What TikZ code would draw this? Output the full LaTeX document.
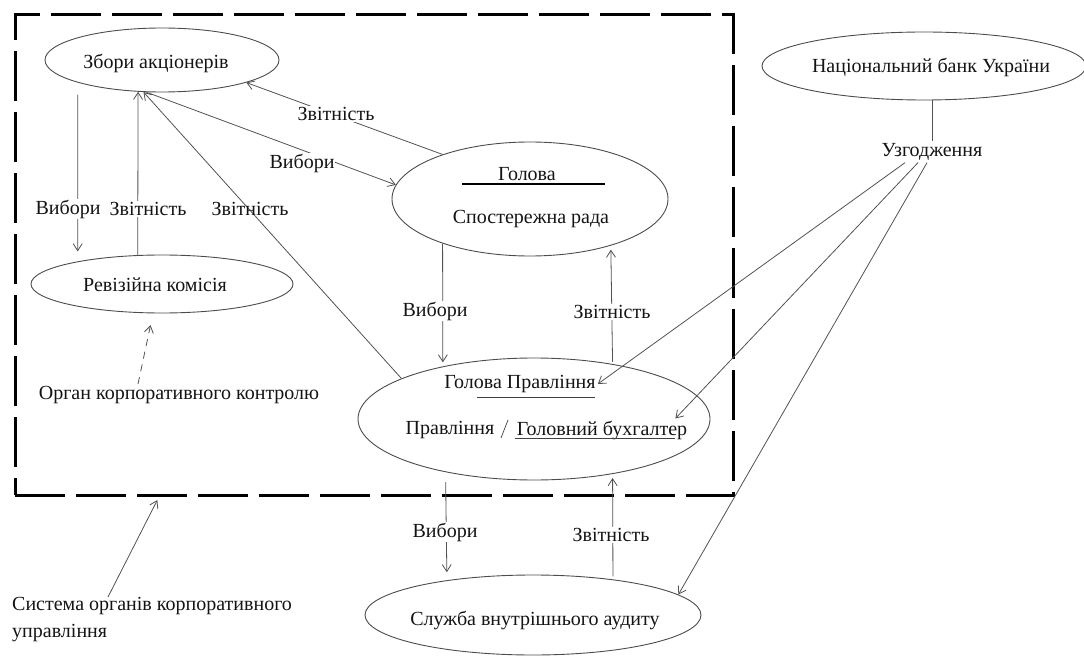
\documentclass[tikz,border=0pt]{standalone}
\usepackage{fontspec}
\setmainfont{Liberation Serif}
\usetikzlibrary{shapes.geometric,arrows.meta,calc}

\begin{document}
\begin{tikzpicture}[x=1pt,y=-1pt,
  ell/.style={draw=black!70, line width=0.9pt, ellipse, inner sep=0pt},
  txt/.style={text=black!92, font=\fontsize{20}{27}\selectfont, inner sep=2pt},
  lab/.style={txt, fill=white, inner sep=1pt},
  conn/.style={draw=black!68, line width=0.8pt},
  arr/.style={conn, -{Straight Barb[length=7pt,width=9pt]}},
  frame/.style={draw=black, line width=3pt, dash pattern=on 50pt off 11pt},
  uline/.style={draw=black!75, line width=0.7pt},
]
\useasboundingbox (0,0) rectangle (1084,660);

% boundary of the corporate governance system
\node[frame, minimum width=718pt, minimum height=480pt, inner sep=0pt] (sysbox) at (374,255) {};

% bodies
\node[ell, minimum width=234pt, minimum height=64pt]  (zbory) at (162,60)  {};
\node[ell, minimum width=262pt, minimum height=58pt]  (reviz) at (162,284) {};
\node[ell, minimum width=276pt, minimum height=114pt] (rada)  at (530,199) {};
\node[ell, minimum width=352pt, minimum height=122pt] (pravl) at (534,419) {};
\node[ell, minimum width=336pt, minimum height=80pt]  (audit) at (533,615) {};
\node[ell, minimum width=324pt, minimum height=68pt]  (nbu)   at (924,66)  {};

% texts inside the bodies
\node[txt] (tzbory) at (156,63)  {Збори акціонерів};
\node[txt] (treviz) at (155,285) {Ревізійна комісія};
\node[txt] (holova) at (527,174) {Голова};
\node[txt] (trada)  at (531,219) {Спостережна рада};
\node[txt] (golpr)  at (520,384) {Голова Правління};
\node[txt] (tpravl) at (450,430) {Правління};
\node[txt] (buh)    at (602,430) {Головний бухгалтер};
\node[txt] (taudit) at (535,620) {Служба внутрішнього аудиту};
\node[txt] (tnbu)   at (931,67)  {Національний банк України};
\node[txt] (uzg)    at (932,152) {Узгодження};
\node[txt] (organ)  at (179,395) {Орган корпоративного контролю};
\node[txt, anchor=north west, align=left, inner sep=0pt] (sys) at (12,597)
  {Система органів корпоративного\\управління};

% rules under the titles
\draw[black, line width=1.6pt] (462,184) -- (605,184);
\draw[uline] (477,397) -- (595,397);
\draw[uline] (515,438) -- (675,438);
\draw[uline] (501,438) -- (508,420);

% elections and reporting
\draw[arr, shorten <=12pt, shorten >=10pt] (zbory.-165.8) -- (reviz.165.7);
\draw[arr] (reviz.130.1) -- (zbory.-127.5);
\draw[arr] (zbory.-116) -- (rada.174);
\draw[arr] (rada.153.7) -- (zbory.-15.1);
\draw[arr] (pravl.163.8) -- (zbory.-120);
\draw[arr, shorten >=4pt] (rada.-153.9) -- (pravl.150.9);
\draw[arr, shorten <=2pt, shorten >=4pt] (pravl.35.9) -- (rada.-30.1);
\draw[arr, shorten <=10pt, shorten >=8pt] (pravl.-149.4) -- (audit.158.8);
\draw[arr, shorten <=3pt, shorten >=4pt] (audit.24.8) -- (pravl.-35.9);

% coordination with the National Bank
\draw[conn] (nbu.south -| uzg.north) -- (uzg.north);
\draw[arr] ([xshift=-27pt]uzg.south) -- (golpr.east);
\draw[arr] ([xshift=-14pt]uzg.south) -- ([xshift=-14pt]buh.north east);
\draw[arr] ([xshift=-5pt]uzg.south) -- (audit.8);

% pointers from the captions
\draw[arr, dash pattern=on 7pt off 6pt, shorten >=12pt] ([xshift=-41pt]organ.north) -- (reviz.-107.2);
\draw[arr, shorten >=4pt] ([xshift=96pt]sys.north west) -- ($(sysbox.south west)!0.202!(sysbox.south east)$);

% connector labels
\node[lab] (l1) at (68,209)  {Вибори};
\node[lab] (l2) at (148,209) {Звітність};
\node[txt] (l3) at (250,209) {Звітність};
\node[lab] (l4) at (336,114) {Звітність};
\node[lab] (l5) at (302,163) {Вибори};
\node[lab] (l6) at (435,311) {Вибори};
\node[lab] (l7) at (612,312) {Звітність};
\node[lab] (l8) at (445,532) {Вибори};
\node[lab] (l9) at (611,535) {Звітність};
\end{tikzpicture}
\end{document}
